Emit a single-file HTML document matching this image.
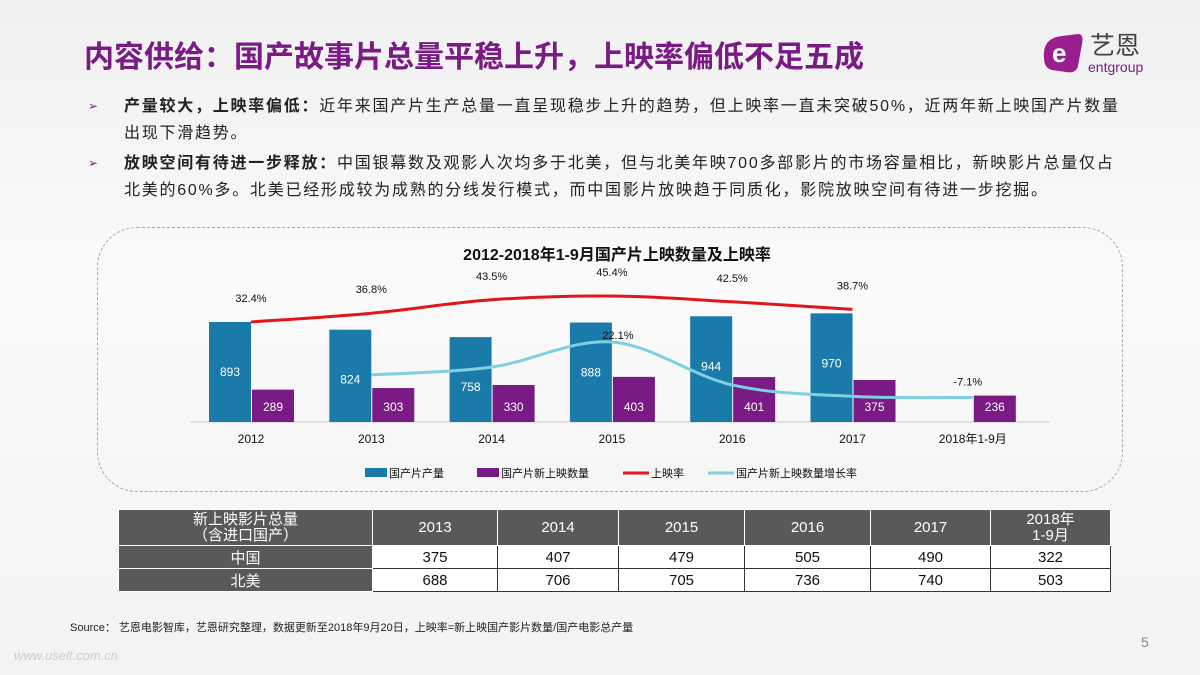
<!DOCTYPE html>
<html><head><meta charset="utf-8">
<style>
body{margin:0;width:1200px;height:675px;overflow:hidden;font-family:"Liberation Sans","Noto Sans CJK SC",sans-serif;background:linear-gradient(180deg,#f0f0f0 0%,#fafafa 40%,#f3f3f3 100%);position:relative}
.abs{position:absolute}
#title{left:84px;top:32px;font-size:30px;font-weight:bold;color:#7a1a84;white-space:nowrap}
.bul{left:88px;font-size:16px;color:#222;line-height:27px;white-space:nowrap;letter-spacing:1.75px}
.bul .arr{position:absolute;left:0;color:#7a1a84;font-size:12px}
.bul .txt{margin-left:36px}
table{border-collapse:collapse;font-size:15px;table-layout:fixed}
td{border:1px solid #333;text-align:center;padding:0;height:22px}
td.h{background:#595959;color:#fff;border-color:#fff}
td.d{background:#fff;color:#111}
</style></head><body>
<div id="title" class="abs">内容供给：国产故事片总量平稳上升，上映率偏低不足五成</div>
<div class="abs" style="left:1038px;top:30px;width:130px;height:46px">
<svg width="130" height="46"><path d="M6 28 Q4 8 24 6 L40 4 Q46 4 44 14 L40 36 Q38 44 28 42 L14 40 Q6 38 6 28Z" fill="#9a1f8e"/><text x="14" y="32" font-size="26" font-weight="bold" fill="#fff" font-family="Liberation Sans">e</text><text x="52" y="24" font-size="25" fill="#444" font-family="Noto Sans CJK SC">艺恩</text><text x="50" y="42" font-size="14" fill="#7a1a84" font-family="Liberation Sans">entgroup</text></svg></div>
<div class="abs bul" style="top:93px"><span class="arr">➢</span><div class="txt"><b>产量较大，上映率偏低：</b>近年来国产片生产总量一直呈现稳步上升的趋势，但上映率一直未突破50%，近两年新上映国产片数量<br>出现下滑趋势。</div></div>
<div class="abs bul" style="top:150px"><span class="arr">➢</span><div class="txt"><b>放映空间有待进一步释放：</b>中国银幕数及观影人次均多于北美，但与北美年映700多部影片的市场容量相比，新映影片总量仅占<br>北美的60%多。北美已经形成较为成熟的分线发行模式，而中国影片放映趋于同质化，影院放映空间有待进一步挖掘。</div></div>
<div class="abs" style="left:97px;top:227px;width:1024px;height:263px;border:1.5px dashed #aaa;border-radius:40px"></div>
<svg class="abs" style="left:0;top:0" width="1200" height="675" id="chart"></svg>
<table class="abs" style="left:118px;top:509px;width:992px">
<colgroup><col style="width:254px"><col style="width:125px"><col style="width:121px"><col style="width:126px"><col style="width:126px"><col style="width:120px"><col style="width:120px"></colgroup>
<tr style="height:36px"><td class="h" style="line-height:16px">新上映影片总量<br>（含进口国产）</td><td class="h">2013</td><td class="h">2014</td><td class="h">2015</td><td class="h">2016</td><td class="h">2017</td><td class="h" style="line-height:16px">2018年<br>1-9月</td></tr>
<tr><td class="h">中国</td><td class="d">375</td><td class="d">407</td><td class="d">479</td><td class="d">505</td><td class="d">490</td><td class="d">322</td></tr>
<tr><td class="h">北美</td><td class="d">688</td><td class="d">706</td><td class="d">705</td><td class="d">736</td><td class="d">740</td><td class="d">503</td></tr>
</table>
<div class="abs" style="left:70px;top:619px;font-size:11px;color:#222">Source： 艺恩电影智库，艺恩研究整理，数据更新至2018年9月20日，上映率=新上映国产影片数量/国产电影总产量</div>
<div class="abs" style="left:1141px;top:634px;font-size:14px;color:#888">5</div>
<div class="abs" style="left:14px;top:648px;font-size:13px;color:#ccc;font-style:italic">www.uselt.com.cn</div>
<script>
const categories=["2012","2013","2014","2015","2016","2017","2018年1-9月"];
const production=[893,824,758,888,944,970,null];
const released=[289,303,330,403,401,375,236];
const rate=[32.4,36.8,43.5,45.4,42.5,38.7,null];
const growth=[null,4.8,8.9,22.1,-0.5,-6.5,-7.1];
const growthLabels={3:"22.1%",6:"-7.1%"};
const legendNames=["国产片产量","国产片新上映数量","上映率","国产片新上映数量增长率"];
const svg=document.getElementById('chart');const NS="http://www.w3.org/2000/svg";
function mk(t,a,txt){const e=document.createElementNS(NS,t);for(const k in a)e.setAttribute(k,a[k]);if(txt!=null)e.textContent=txt;svg.appendChild(e);return e;}
const base=422,cx=i=>251+i*120.3,yB=v=>base-v*0.112,yR=v=>322-(v-32.4)*2,yG=v=>384-v*1.9;
const BLUE="#1a7bab",PUR="#7a1a84";
let t=mk('text',{x:617,y:260,'text-anchor':'middle','font-size':16,'font-weight':'bold',fill:'#111'},"2012-2018年1-9月国产片上映数量及上映率");

let ax=mk('line',{x1:190,x2:1050,y1:base,y2:base,stroke:'#ccc'});

categories.forEach((c,i)=>{
 let l=mk('text',{x:cx(i),y:443,'text-anchor':'middle','font-size':12,fill:'#111'},c);
 
 if(production[i]!=null){let b=mk('rect',{x:cx(i)-42,y:yB(production[i]),width:42,height:production[i]*0.112,fill:BLUE});
 
 let v=mk('text',{x:cx(i)-21,y:yB(production[i])+54,'text-anchor':'middle','font-size':12,fill:'#fff'},production[i]);
 }
 let b2=mk('rect',{x:cx(i)+1,y:yB(released[i]),width:42,height:released[i]*0.112,fill:PUR});
 
 let v2=mk('text',{x:cx(i)+22,y:base-11,'text-anchor':'middle','font-size':12,fill:'#fff'},released[i]);
 
});
function smooth(pts){let d="M"+pts[0][0]+" "+pts[0][1];for(let i=0;i<pts.length-1;i++){const p0=pts[i-1]||pts[i],p1=pts[i],p2=pts[i+1],p3=pts[i+2]||p2;
 d+=` C${p1[0]+(p2[0]-p0[0])/6} ${p1[1]+(p2[1]-p0[1])/6} ${p2[0]-(p3[0]-p1[0])/6} ${p2[1]-(p3[1]-p1[1])/6} ${p2[0]} ${p2[1]}`;}return d;}
const rp=[];rate.forEach((v,i)=>{if(v!=null)rp.push([cx(i),yR(v)]);});
let rl=mk('path',{d:smooth(rp),fill:'none',stroke:'#e0161b','stroke-width':3});

rate.forEach((v,i)=>{if(v==null)return;let l=mk('text',{x:cx(i),y:yR(v)-20,'text-anchor':'middle','font-size':11,fill:'#111'},v.toFixed(1)+"%");
 });
const gp=[];growth.forEach((v,i)=>{if(v!=null)gp.push([cx(i),yG(v)]);});
let gl=mk('path',{d:smooth(gp),fill:'none',stroke:'#7ecfe0','stroke-width':3});

for(const k in growthLabels){let l=mk('text',{x:cx(+k)+(k==3?6:-5),y:yG(growth[k])-(k==3?3:12),'text-anchor':'middle','font-size':11,fill:'#111'},growthLabels[k]);
 }
const lx=[365,477,623,708];
legendNames.forEach((n,i)=>{let g;
 if(i<2){g=mk('rect',{x:lx[i],y:468,width:22,height:9,fill:i?PUR:BLUE});}
 else{g=mk('line',{x1:lx[i],x2:lx[i]+26,y1:473,y2:473,stroke:i==2?'#e0161b':'#7ecfe0','stroke-width':3});}
 
 let l=mk('text',{x:lx[i]+(i<2?24:28),y:477,'font-size':11,fill:'#111'},n);
 });
</script>
</body></html>
